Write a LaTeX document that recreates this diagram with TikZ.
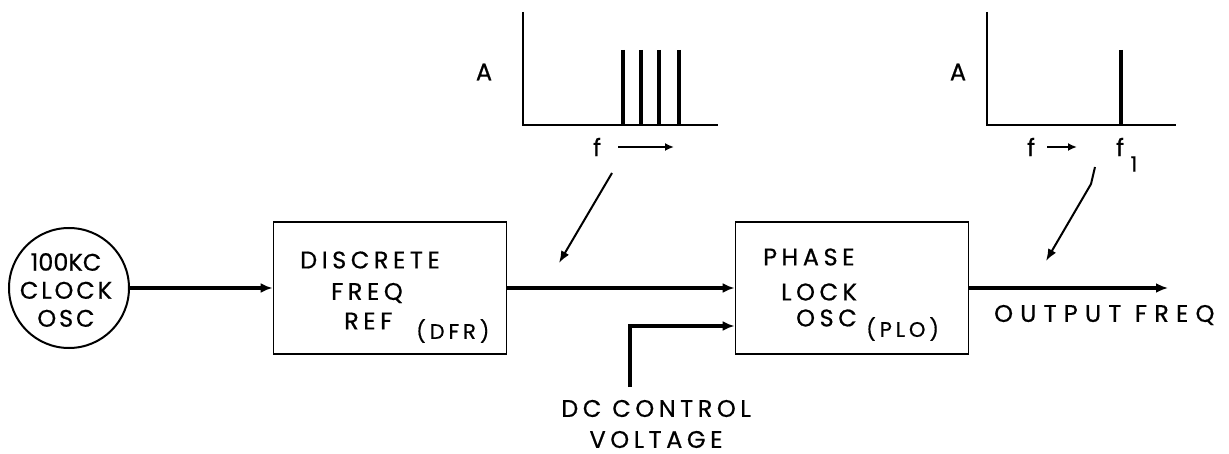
\documentclass[tikz,border=0pt]{standalone}
\usepackage{fontspec}
\usetikzlibrary{arrows.meta}
\newfontfamily\lett[LetterSpace=19,FakeBold=0.6]{Poppins}
\newfontfamily\lettc[LetterSpace=12,FakeBold=0.6]{Poppins}
\newfontfamily\lettn[LetterSpace=0,FakeBold=0.6]{Poppins}
\newfontfamily\lettw[LetterSpace=30,FakeBold=0.6]{Poppins}
\begin{document}
\begin{tikzpicture}[x=1pt,y=-1pt,
  lbl/.style={font=\lett\fontsize{24}{31}\selectfont, inner sep=0pt, anchor=west},
  sml/.style={font=\lett\fontsize{21}{24}\selectfont, inner sep=0pt, anchor=west},
  blk/.style={draw, line width=1.9pt, minimum width=233pt, minimum height=132pt, inner sep=0pt},
  conn/.style={line width=3.2pt, -{Latex[length=12pt,width=10pt]}},
  axis/.style={line width=1.9pt},
  spike/.style={line width=3.2pt},
  ptr/.style={line width=2pt, -{Latex[length=12pt,width=9pt]}}]
\useasboundingbox (0,0) rectangle (1229,454);
% blocks
\node[draw, circle, line width=2pt, minimum size=120pt, inner sep=0pt] (osc) at (69,288) {};
\node[font=\lettc\fontsize{24}{28}\selectfont, align=center, inner sep=0pt] (osct) at (66,290) {{\lettn 100KC}\\CLOCK\\OSC};
\node[blk] (dfr) at (390,288) {};
\node[blk] (plo) at (852,288) {};
% block texts
\node[lbl] (t1) at (300,260) {DISCRETE};
\node[lbl] (t2) at (331,293) {FREQ};
\node[lbl] (t3) at (344,321) {REF};
\node[sml] (t4) at (416,331) {(DFR)};
\node[lbl] (t5) at (763,257) {PHASE};
\node[lbl] (t6) at (781,292) {LOCK};
\node[lbl] (t7) at (796,318) {OSC};
\node[sml] (t8) at (866,329) {(PLO)};
\node[font=\lettw\fontsize{24}{31}\selectfont, inner sep=0pt, anchor=west] (outt) at (994,315) {OUTPUT FREQ};
\node[font=\lett\fontsize{24}{31}\selectfont, align=center, inner sep=0pt] (dct) at (656,424) {DC CONTROL\\VOLTAGE};
% connectors
\coordinate (dcend) at (630,387);
\coordinate (outend) at (1168,288);
\draw[conn] (osc.east) -- (dfr.west);
\draw[conn] (dfr.east) -- (plo.west);
\draw[conn] (dcend) |- ([yshift=-38pt]plo.west);
\draw[conn] (plo.east) -- (outend);
% spectrum 1
\draw[axis] (523,12) -- (523,125) -- (718,125);
\foreach \x in {623,641,659,679} \draw[spike] (\x,50) -- (\x,125);
\node[lbl, anchor=center] (a1) at (484,72) {A};
\node[lbl, anchor=center] (f1) at (597,147) {f};
\coordinate (fa1s) at (618,147); \coordinate (fa1e) at (674,147);
\draw[line width=2pt, -{Latex[length=9pt,width=8pt]}] (fa1s) -- (fa1e);
\coordinate (p1s) at (612,173); \coordinate (p1e) at (559,263);
\draw[ptr] (p1s) -- (p1e);
% spectrum 2
\draw[axis] (987,12) -- (987,125) -- (1176,125);
\draw[spike] (1121,50) -- (1121,125);
\node[lbl, anchor=center] (a2) at (958,72) {A};
\node[lbl, anchor=center] (f2) at (1031,147) {f};
\coordinate (fa2s) at (1047,147); \coordinate (fa2e) at (1077,147);
\draw[line width=2pt, -{Latex[length=9pt,width=8pt]}] (fa2s) -- (fa2e);
\node[lbl, anchor=center] (f3) at (1120,147) {f};
\node[sml, anchor=center] (f3s) at (1134,164) {1};
\coordinate (p2s) at (1095,167); \coordinate (p2m) at (1091,184); \coordinate (p2e) at (1046,261);
\draw[ptr] (p2s) -- (p2m) -- (p2e);
\end{tikzpicture}
\end{document}
